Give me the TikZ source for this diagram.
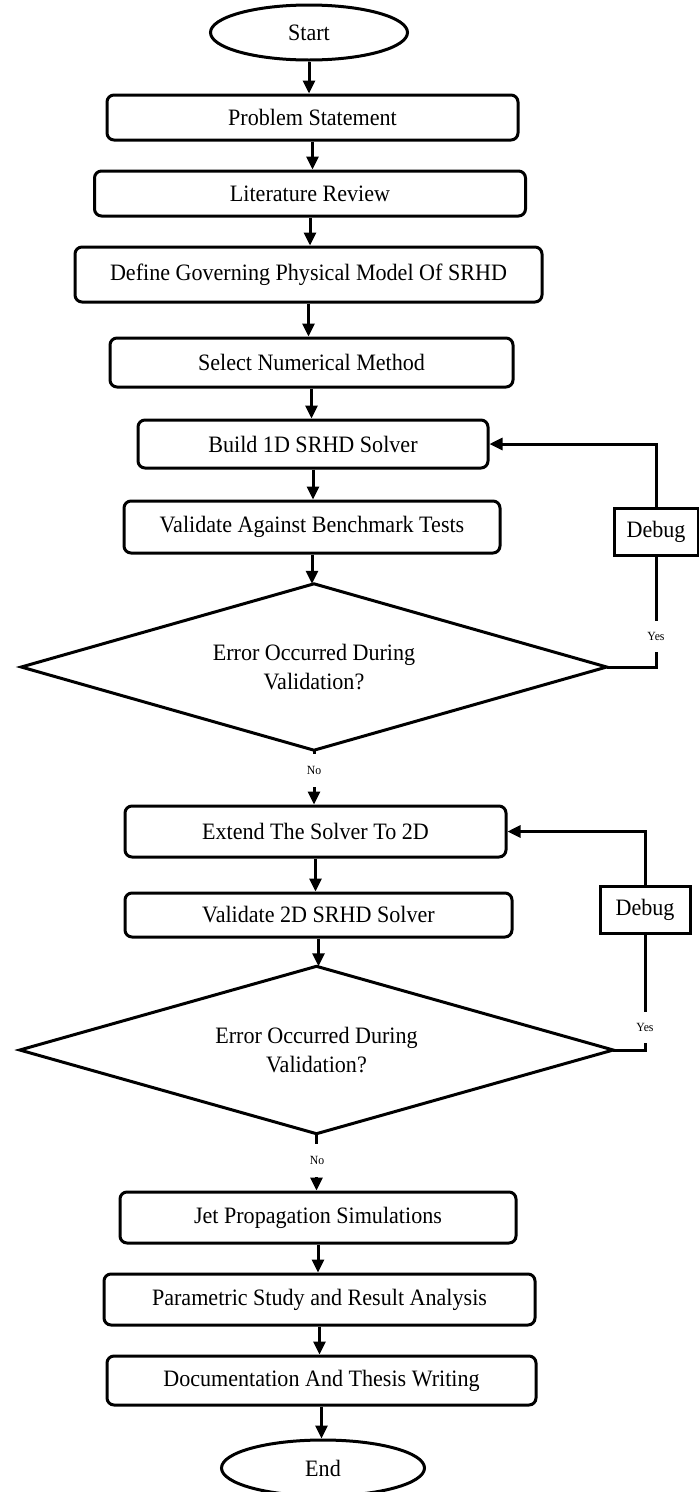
\documentclass[tikz,border=0pt]{standalone}
\usepackage{fontspec}
\setmainfont{Liberation Serif}[FakeStretch=0.94]
\usetikzlibrary{shapes.geometric,arrows.meta}
\begin{document}
\begin{tikzpicture}[x=1pt,y=-1pt,
  every node/.style={font=\fontsize{23.5}{29}\selectfont},
  procbox/.style={draw, line width=3pt, rounded corners=7pt, inner sep=0pt, align=center},
  termbox/.style={draw, ellipse, line width=3pt, inner sep=0pt},
  decbox/.style={inner sep=0pt, align=center},
  decline/.style={line width=3pt, line join=miter},
  dbgbox/.style={draw, line width=3pt, inner sep=0pt},
  lbl/.style={fill=white, inner sep=0pt, font=\fontsize{12.5}{14}\selectfont},
  conn/.style={line width=3pt},
  arr/.style={conn, -{Triangle[length=13pt,width=12pt]}}
]
\useasboundingbox (0,0) rectangle (699,1492);
\node[termbox, minimum width=197pt, minimum height=55pt] (start) at (309,32.5) {Start};
\node[procbox, minimum width=411pt, minimum height=45pt] (prob) at (312.5,117.5) {Problem Statement};
\node[procbox, minimum width=431pt, minimum height=45pt] (lit) at (310,193.5) {Literature Review};
\node[procbox, minimum width=467pt, minimum height=55pt] (def) at (308.5,274.5) {Define Governing Physical Model Of SRHD};
\node[procbox, minimum width=403pt, minimum height=49pt] (sel) at (311.5,362.5) {Select Numerical Method};
\node[procbox, minimum width=350pt, minimum height=48pt] (build) at (313,444) {Build 1D SRHD Solver};
\node[procbox, minimum width=376pt, minimum height=52pt] (vala) at (312,527) {Validate Against Benchmark Tests};
\node[decbox, minimum width=585pt, minimum height=166pt] (d1) at (314,667) {Error Occurred During\\Validation?};
\draw[decline] (d1.north) -- (d1.east) -- (d1.south) -- (d1.west) -- cycle;
\node[procbox, minimum width=381pt, minimum height=51pt] (ext) at (315.5,831.5) {Extend The Solver To 2D};
\node[procbox, minimum width=387pt, minimum height=44pt] (val2) at (318.5,915) {Validate 2D SRHD Solver};
\node[decbox, minimum width=593pt, minimum height=167pt] (d2) at (316.5,1050) {Error Occurred During\\Validation?};
\draw[decline] (d2.north) -- (d2.east) -- (d2.south) -- (d2.west) -- cycle;
\node[procbox, minimum width=396pt, minimum height=51pt] (jet) at (318,1217.5) {Jet Propagation Simulations};
\node[procbox, minimum width=431pt, minimum height=51pt] (par) at (319.5,1299.5) {Parametric Study and Result Analysis};
\node[procbox, minimum width=429pt, minimum height=49pt] (doc) at (321.5,1380.5) {Documentation And Thesis Writing};
\node[termbox, minimum width=203pt, minimum height=56pt] (end) at (323,1468) {End};
\node[dbgbox, minimum width=84pt, minimum height=47pt] (dbg1) at (656,532) {Debug};
\node[dbgbox, minimum width=90pt, minimum height=47pt] (dbg2) at (645,910) {Debug};

\draw[arr] (start.south) -- (start.south |- prob.north);
\draw[arr] (prob.south) -- (prob.south |- lit.north);
\draw[arr] (lit.south) -- (lit.south |- def.north);
\draw[arr] (def.south) -- (def.south |- sel.north);
\draw[arr] (sel.south) -- (sel.south |- build.north);
\draw[arr] (build.south) -- (build.south |- vala.north);
\draw[arr] (vala.south) -- (vala.south |- d1.north);
\draw[arr] (d1.south) -- (d1.south |- ext.north);
\draw[arr] (ext.south) -- (ext.south |- val2.north);
\draw[arr] (val2.south) -- (val2.south |- d2.north);
\draw[arr] (d2.south) -- (d2.south |- jet.north);
\draw[arr] (jet.south) -- (jet.south |- par.north);
\draw[arr] (par.south) -- (par.south |- doc.north);
\draw[arr] (doc.south) -- (doc.south |- end.north);

\draw[conn] (d1.east) -| (dbg1.south);
\draw[arr] (dbg1.north) |- (build.east);
\draw[conn] (d2.east) -| (dbg2.south);
\draw[arr] (dbg2.north) |- (ext.east);

\node[lbl, minimum width=67pt, minimum height=33pt] (no1) at (314,770) {No};
\node[lbl, minimum width=67pt, minimum height=33pt] (no2) at (317,1160) {No};
\node[lbl, minimum width=70pt, minimum height=31pt] (yes1) at (656,636) {Yes};
\node[lbl, minimum width=70pt, minimum height=31pt] (yes2) at (645,1027) {Yes};
\end{tikzpicture}
\end{document}
